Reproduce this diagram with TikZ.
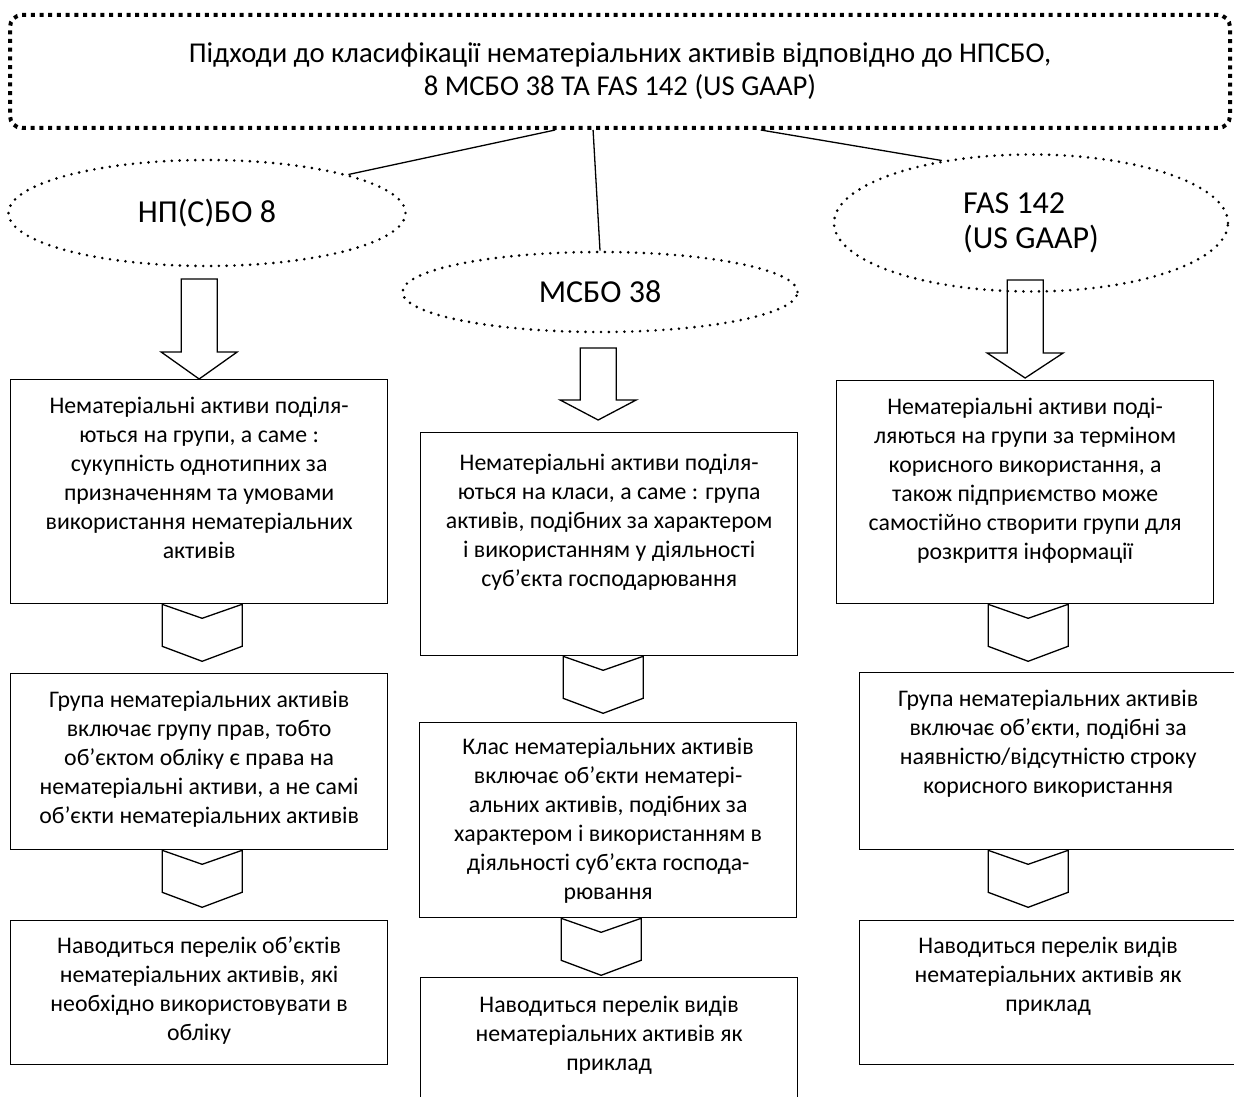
\documentclass[tikz,border=0pt]{standalone}
\usepackage{fontspec}
\setmainfont{Carlito}
\usetikzlibrary{shapes.geometric,positioning,calc}

\tikzset{
  card/.style={draw, line width=1.3pt, minimum width=377pt, minimum height=#1, anchor=north west, inner sep=0pt},
  cardtext/.style={align=center, inner sep=0pt, font=\fontsize{23.8}{29}\selectfont},
  std/.style={draw, ellipse, dash pattern=on 0pt off 7.8pt, line cap=round, line width=2.9pt, inner sep=0pt, font=\fontsize{32}{35}\selectfont},
  hollow/.style={line width=1.3pt, line join=miter},
}

\begin{document}
\begin{tikzpicture}[x=1pt, y=-1pt]
        \useasboundingbox (0,0) rectangle (1234,1097);
        \clip (0,0) rectangle (1234,1097);

        %% Title
        \node[draw, rounded corners=12pt, line width=4pt, dash pattern=on 4pt off 4.7pt,
              minimum width=1220pt, minimum height=113pt, align=center,
              font=\fontsize{28.7}{33}\selectfont] (top) at (620,71.5)
              {Підходи до класифікації нематеріальних активів відповідно до НПСБО,\\8 МСБО 38 ТА FAS 142 (US GAAP)};

        %% Standards
        \node[std, minimum width=397pt, minimum height=106pt] (np) at (207,213) {НП(С)БО 8};
        \node[std, minimum width=395pt, minimum height=80pt] (ms) at (600,292) {МСБО 38};
        \node[std, minimum width=394pt, minimum height=137pt, align=left] (fas) at (1031,223) {FAS 142\\(US GAAP)};

        % Lines from the title
        \draw[line width=1.3pt] ($(top.south west)!0.447!(top.south east)$) -- (np.north east);
        \draw[line width=1.3pt] ($(top.south west)!0.478!(top.south east)$) -- (ms.north);
        \draw[line width=1.3pt] ($(top.south west)!0.615!(top.south east)$) -- (fas.145);

        %% Boxes
        \node[card=224pt] (l1) at (10,379) {};
        \node[card=176pt] (l2) at (10,673) {};
        \node[card=144pt] (l3) at (10,920) {};
        \node[card=223pt] (m1) at (420,432) {};
        \node[card=195pt] (m2) at (419,722) {};
        \node[card=140pt] (m3) at (420,977) {};
        \node[card=223pt] (r1) at (836,380) {};
        \node[card=177pt] (r2) at (859,672) {};
        \node[card=144pt] (r3) at (859,920) {};

        % Block arrows
        \foreach \bx/\dx/\dy/\hd/\len in {l1/0/0/27/73, m1/-11/-12/20/52, r1/0/-2/25/73}
                \draw[hollow, shift={($(\bx.north)+(\dx,\dy)$)}] (0,0) -- (38,-\hd) -- (18,-\hd)
                        -- (18,-\hd-\len) -- (-18,-\hd-\len) -- (-18,-\hd) -- (-38,-\hd) -- cycle;

        % Chevrons
        \foreach \bx/\dx in {l1/3, l2/3, m1/-6, m2/-7, r1/3, r2/-20}
                \draw[hollow, shift={($(\bx.south)+(\dx,0)$)}] (-40,0) -- (0,14) -- (40,0)
                        -- (40,42) -- (0,57) -- (-40,42) -- cycle;

        %% Texts
        \node[cardtext, below=17.5pt of l1.north] (l1t) {Нематеріальні активи поділя-\\ються на групи, а саме :\\сукупність однотипних за\\призначенням та умовами\\використання нематеріальних\\активів};
        \node[cardtext, below=17.5pt of l2.north] (l2t) {Група нематеріальних активів\\включає групу прав, тобто\\об’єктом обліку є права на\\нематеріальні активи, а не самі\\об’єкти нематеріальних активів};
        \node[cardtext, below=17pt of l3.north] (l3t) {Наводиться перелік об’єктів\\нематеріальних активів, які\\необхідно використовувати в\\обліку};
        \node[cardtext, below=22pt of m1.north] (m1t) {Нематеріальні активи поділя-\\ються на класи, а саме : група\\активів, подібних за характером\\і використанням у діяльності\\суб’єкта господарювання};
        \node[cardtext, below=16pt of m2.north] (m2t) {Клас нематеріальних активів\\включає об’єкти нематері-\\альних активів, подібних за\\характером і використанням в\\діяльності суб’єкта господа-\\рювання};
        \node[cardtext, below=19pt of m3.north] (m3t) {Наводиться перелік видів\\нематеріальних активів як\\приклад};
        \node[cardtext, below=17.5pt of r1.north] (r1t) {Нематеріальні активи поді-\\ляються на групи за терміном\\корисного використання, а\\також підприємство може\\самостійно створити групи для\\розкриття інформації};
        \node[cardtext, below=17.5pt of r2.north] (r2t) {Група нематеріальних активів\\включає об’єкти, подібні за\\наявністю/відсутністю строку\\корисного використання};
        \node[cardtext, below=17pt of r3.north] (r3t) {Наводиться перелік видів\\нематеріальних активів як\\приклад};
\end{tikzpicture}
\end{document}
